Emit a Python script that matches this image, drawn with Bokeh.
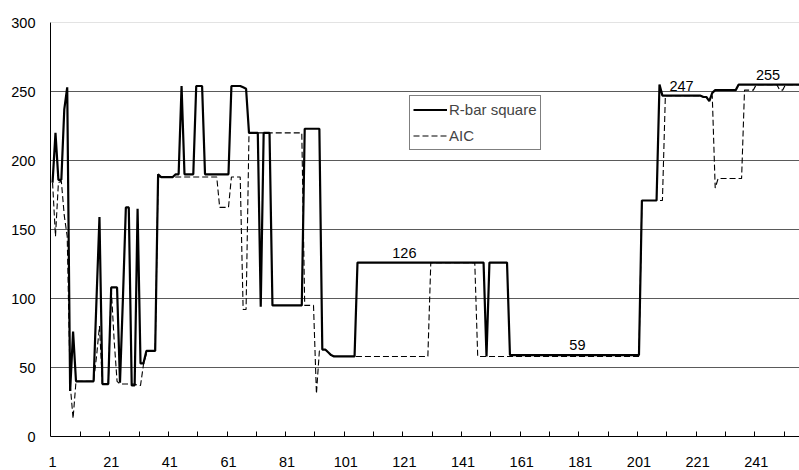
from bokeh.plotting import figure
from bokeh.models import Range1d, FixedTicker, Legend, LegendItem, Span, ColumnDataSource
from bokeh.core.properties import value
from bokeh.embed import file_html
from bokeh.resources import INLINE

# ---- data ----
categories = list(range(1, 257))

r_bar_square = [
    184, 220, 186, 186, 237, 253, 33, 76, 40, 40, 40, 40, 40, 40, 40, 100,
    159, 38, 38, 38, 108, 108, 108, 39, 100, 166, 166, 37, 37, 165, 53, 53,
    62, 62, 62, 62, 190, 188, 188, 188, 188, 188, 190, 190, 254, 190, 190, 190,
    190, 254, 254, 254, 190, 190, 190, 190, 190, 190, 190, 190, 190, 254, 254, 254,
    254, 253, 252, 220, 220, 220, 220, 94, 220, 220, 220, 95, 95, 95, 95, 95,
    95, 95, 95, 95, 95, 95, 223, 223, 223, 223, 223, 223, 63, 63, 61, 59,
    58, 58, 58, 58, 58, 58, 58, 58, 126, 126, 126, 126, 126, 126, 126, 126,
    126, 126, 126, 126, 126, 126, 126, 126, 126, 126, 126, 126, 126, 126, 126, 126,
    126, 126, 126, 126, 126, 126, 126, 126, 126, 126, 126, 126, 126, 126, 126, 126,
    126, 126, 126, 126, 58, 126, 126, 126, 126, 126, 126, 126, 59, 59, 59, 59,
    59, 59, 59, 59, 59, 59, 59, 59, 59, 59, 59, 59, 59, 59, 59, 59,
    59, 59, 59, 59, 59, 59, 59, 59, 59, 59, 59, 59, 59, 59, 59, 59,
    59, 59, 59, 59, 59, 59, 59, 59, 59, 171, 171, 171, 171, 171, 171, 255,
    247, 247, 247, 247, 247, 247, 247, 247, 247, 247, 247, 247, 247, 247, 246, 246,
    243, 249, 251, 251, 251, 251, 251, 251, 251, 251, 255, 255, 255, 255, 255, 255,
    255, 255, 255, 255, 255, 255, 255, 255, 255, 255, 255, 255, 255, 255, 255, 255,
]

aic = [
    184, 145, 184, 185, 160, 145, 38, 13, 40, 40, 40, 40, 40, 40, 40, 58,
    80, 38, 38, 38, 108, 70, 40, 38, 38, 38, 38, 38, 38, 37, 37, 52,
    60, 62, 62, 62, 188, 188, 188, 188, 188, 188, 188, 188, 188, 188, 188, 188,
    188, 188, 188, 188, 188, 188, 188, 188, 188, 166, 166, 166, 166, 188, 188, 188,
    188, 92, 92, 220, 220, 220, 220, 220, 220, 220, 220, 220, 220, 220, 220, 220,
    220, 220, 220, 220, 220, 220, 95, 95, 95, 95, 31, 62, 63, 63, 61, 59,
    58, 58, 58, 58, 58, 58, 58, 58, 58, 58, 58, 58, 58, 58, 58, 58,
    58, 58, 58, 58, 58, 58, 58, 58, 58, 58, 58, 58, 58, 58, 58, 58,
    58, 126, 126, 126, 126, 126, 126, 126, 126, 126, 126, 126, 126, 126, 126, 126,
    126, 58, 58, 58, 58, 58, 58, 58, 58, 58, 58, 58, 58, 58, 58, 58,
    58, 58, 58, 58, 58, 58, 58, 58, 58, 58, 58, 58, 58, 58, 58, 58,
    58, 58, 58, 58, 58, 58, 58, 58, 58, 58, 58, 58, 58, 58, 58, 58,
    58, 58, 58, 58, 58, 58, 58, 58, 58, 171, 171, 171, 171, 171, 171, 171,
    171, 247, 247, 247, 247, 247, 247, 247, 247, 247, 247, 247, 247, 247, 246, 246,
    245, 247, 180, 187, 187, 187, 187, 187, 187, 187, 187, 187, 251, 251, 251, 251,
    255, 255, 255, 255, 255, 255, 255, 255, 251, 251, 255, 255, 255, 255, 255, 255,
]

x_tick_labels = [1, 21, 41, 61, 81, 101, 121, 141, 161, 181, 201, 221, 241]
x_minor_ticks = [10.5 + 10 * i for i in range(25)]
y_ticks = [0, 50, 100, 150, 200, 250, 300]

note_x = [121, 180, 215.5, 245]
note_y = [126, 59, 247, 255]
note_text = ["126", "59", "247", "255"]

assert len(r_bar_square) == 256 and len(aic) == 256

FONT = "Liberation Sans"

p = figure(width=799, height=470, output_backend="svg", toolbar_location=None,
           x_range=Range1d(0.3, 255.75), y_range=Range1d(0, 300),
           min_border_left=50, min_border_right=0, min_border_top=22, min_border_bottom=34)
p.outline_line_color = None
p.background_fill_color = "white"
p.border_fill_color = "white"

# grid
p.xgrid.visible = False
p.ygrid.ticker = FixedTicker(ticks=[50, 100, 150, 200, 250])
p.ygrid.grid_line_color = "#5a5a5a"
p.ygrid.grid_line_width = 1
p.add_layout(Span(location=300, dimension="width", line_color="#c8c8c8", line_width=1))

# axes
p.yaxis.ticker = FixedTicker(ticks=y_ticks)
p.yaxis.major_tick_in = 0
p.yaxis.major_tick_out = 0
p.yaxis.minor_tick_in = 0
p.yaxis.minor_tick_out = 0
p.yaxis.major_label_standoff = 15
p.yaxis.axis_line_color = "black"
p.yaxis.major_label_text_font = FONT
p.yaxis.major_label_text_font_size = "14.5px"
p.yaxis.major_label_text_color = "black"

p.xaxis.ticker = FixedTicker(ticks=x_tick_labels, minor_ticks=x_minor_ticks)
p.xaxis.major_tick_in = 0
p.xaxis.major_tick_out = 0
p.xaxis.minor_tick_in = 5
p.xaxis.minor_tick_out = 0
p.xaxis.minor_tick_line_color = "black"
p.xaxis.major_label_standoff = 20
p.xaxis.axis_line_color = "black"
p.xaxis.major_label_text_font = FONT
p.xaxis.major_label_text_font_size = "14.5px"
p.xaxis.major_label_text_color = "black"

src = ColumnDataSource(dict(x=categories, r=r_bar_square, a=aic))
r_aic = p.line("x", "a", source=src, line_color="black", line_width=1.1, line_dash="6 3")
r_r2 = p.line("x", "r", source=src, line_color="black", line_width=2.2)

# value notes
p.text(x=note_x, y=note_y, text=note_text, text_align="center", text_baseline="alphabetic",
       y_offset=-10, text_font=value(FONT), text_font_size="14.5px", text_color="black")

legend = Legend(items=[LegendItem(label="R-bar square", renderers=[r_r2]),
                       LegendItem(label="AIC", renderers=[r_aic])],
                location=(359, 286), margin=0, padding=3, spacing=5,
                glyph_width=34, glyph_height=21, label_standoff=2, label_height=21,
                label_text_font=FONT, label_text_font_size="15px",
                border_line_color="black", border_line_width=1,
                background_fill_color="white", background_fill_alpha=1)
p.add_layout(legend)

open("out.html", "w").write(file_html(p, INLINE))
